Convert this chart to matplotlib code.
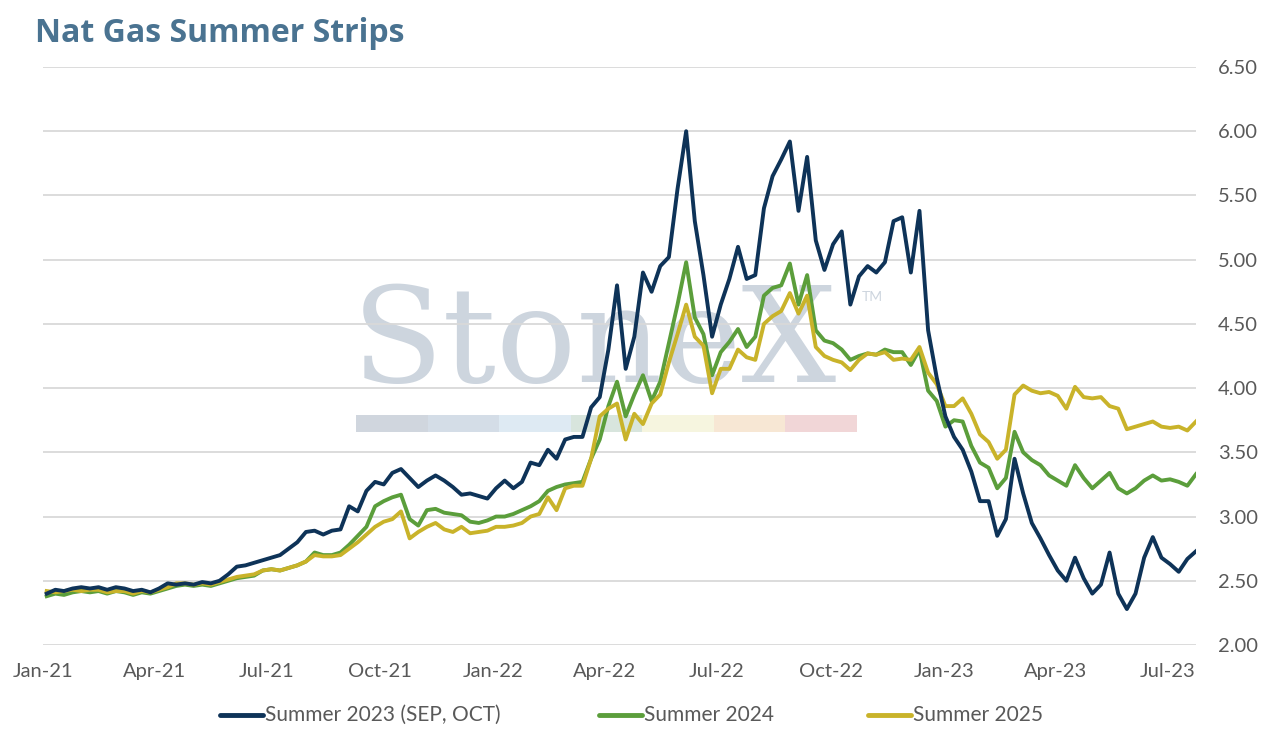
import matplotlib
matplotlib.use("Agg")
import matplotlib.pyplot as plt
import matplotlib.dates as mdates
from matplotlib.patches import Rectangle
from matplotlib.lines import Line2D
import pandas as pd

# ---------------- data ----------------
start_date = "2021-01-04"
n_weeks = 134
dates = pd.date_range(start_date, periods=n_weeks, freq="7D")

summer_2023 = [
    2.40, 2.43, 2.42, 2.44, 2.45, 2.44, 2.45, 2.43, 2.45, 2.44,
    2.42, 2.43, 2.41, 2.44, 2.48, 2.47, 2.48, 2.47, 2.49, 2.48,
    2.50, 2.55, 2.61, 2.62, 2.64, 2.66, 2.68, 2.70, 2.75, 2.80,
    2.88, 2.89, 2.86, 2.89, 2.90, 3.08, 3.04, 3.20, 3.27, 3.25,
    3.34, 3.37, 3.30, 3.23, 3.28, 3.32, 3.28, 3.23, 3.17, 3.18,
    3.16, 3.14, 3.22, 3.28, 3.22, 3.27, 3.42, 3.40, 3.52, 3.45,
    3.60, 3.62, 3.62, 3.85, 3.93, 4.30, 4.80, 4.15, 4.40, 4.90,
    4.75, 4.95, 5.02, 5.55, 6.00, 5.30, 4.88, 4.40, 4.65, 4.85,
    5.10, 4.85, 4.88, 5.40, 5.65, 5.78, 5.92, 5.38, 5.80, 5.15,
    4.92, 5.12, 5.22, 4.65, 4.87, 4.95, 4.90, 4.98, 5.30, 5.33,
    4.90, 5.38, 4.45, 4.08, 3.78, 3.62, 3.52, 3.35, 3.12, 3.12,
    2.85, 2.98, 3.45, 3.18, 2.95, 2.83, 2.70, 2.58, 2.50, 2.68,
    2.52, 2.40, 2.47, 2.72, 2.40, 2.28, 2.40, 2.68, 2.84, 2.68,
    2.63, 2.57, 2.67, 2.73,
]

summer_2024 = [
    2.38, 2.40, 2.39, 2.41, 2.42, 2.41, 2.42, 2.40, 2.42, 2.41,
    2.39, 2.41, 2.40, 2.42, 2.44, 2.46, 2.47, 2.46, 2.47, 2.46,
    2.48, 2.50, 2.52, 2.53, 2.54, 2.58, 2.59, 2.58, 2.60, 2.62,
    2.65, 2.72, 2.70, 2.70, 2.72, 2.78, 2.85, 2.92, 3.08, 3.12,
    3.15, 3.17, 2.98, 2.93, 3.05, 3.06, 3.03, 3.02, 3.01, 2.96,
    2.95, 2.97, 3.00, 3.00, 3.02, 3.05, 3.08, 3.12, 3.20, 3.23,
    3.25, 3.26, 3.27, 3.45, 3.60, 3.86, 4.05, 3.78, 3.95, 4.10,
    3.90, 4.05, 4.35, 4.65, 4.98, 4.55, 4.42, 4.10, 4.28, 4.36,
    4.46, 4.32, 4.40, 4.72, 4.78, 4.80, 4.97, 4.65, 4.88, 4.45,
    4.37, 4.35, 4.30, 4.22, 4.25, 4.27, 4.26, 4.30, 4.28, 4.28,
    4.18, 4.30, 3.98, 3.90, 3.70, 3.75, 3.74, 3.55, 3.42, 3.38,
    3.22, 3.30, 3.66, 3.50, 3.44, 3.40, 3.32, 3.28, 3.24, 3.40,
    3.30, 3.22, 3.28, 3.34, 3.22, 3.18, 3.22, 3.28, 3.32, 3.28,
    3.29, 3.27, 3.24, 3.33,
]

summer_2025 = [
    2.42, 2.41, 2.42, 2.43, 2.42, 2.43, 2.43, 2.41, 2.42, 2.42,
    2.40, 2.42, 2.41, 2.43, 2.45, 2.48, 2.48, 2.47, 2.48, 2.47,
    2.49, 2.51, 2.53, 2.54, 2.55, 2.58, 2.59, 2.58, 2.60, 2.62,
    2.65, 2.70, 2.69, 2.69, 2.70, 2.75, 2.80, 2.86, 2.92, 2.96,
    2.98, 3.04, 2.83, 2.88, 2.92, 2.95, 2.90, 2.88, 2.92, 2.87,
    2.88, 2.89, 2.92, 2.92, 2.93, 2.95, 3.00, 3.02, 3.15, 3.05,
    3.22, 3.24, 3.24, 3.45, 3.78, 3.84, 3.88, 3.60, 3.80, 3.72,
    3.88, 3.95, 4.20, 4.42, 4.65, 4.40, 4.33, 3.96, 4.15, 4.15,
    4.30, 4.24, 4.22, 4.50, 4.56, 4.60, 4.74, 4.58, 4.72, 4.32,
    4.25, 4.22, 4.20, 4.14, 4.22, 4.27, 4.26, 4.28, 4.22, 4.23,
    4.22, 4.32, 4.12, 4.03, 3.86, 3.86, 3.92, 3.80, 3.64, 3.58,
    3.45, 3.52, 3.95, 4.02, 3.98, 3.96, 3.97, 3.94, 3.84, 4.01,
    3.93, 3.92, 3.93, 3.86, 3.84, 3.68, 3.70, 3.72, 3.74, 3.70,
    3.69, 3.70, 3.67, 3.74,
]

series_labels = ["Summer 2023 (SEP, OCT)", "Summer 2024", "Summer 2025"]
series_colors = ["#0e3358", "#5b9e3b", "#c9b32a"]
y_ticks = [2.0, 2.5, 3.0, 3.5, 4.0, 4.5, 5.0, 5.5, 6.0, 6.5]
x_start, x_end = "2021-01-01", "2023-07-24"
title_text = "Nat Gas Summer Strips"
band_colors = ["#d0d6de", "#d4dde7", "#deeaf3", "#d8e5dd", "#f6f5df", "#f7e7d4", "#f1d6d7"]

# ---------------- figure ----------------
W, H = 1271, 734
fig = plt.figure(figsize=(W / 100, H / 100), dpi=100)
ax = fig.add_axes([43 / W, 1 - 645 / H, (1196 - 43) / W, (645 - 67) / H])
ax.set_facecolor("none")

for vals, lab, col, z in zip([summer_2023, summer_2024, summer_2025], series_labels, series_colors, [4, 3, 3]):
    ax.plot(dates, vals, color=col, lw=2.8, label=lab, zorder=z, solid_joinstyle="round")

ax.set_ylim(2.0, 6.5)
ax.set_yticks(y_ticks)
ax.yaxis.set_major_formatter(matplotlib.ticker.FormatStrFormatter("%.2f"))
ax.set_xlim(pd.Timestamp(x_start), pd.Timestamp(x_end))
ax.xaxis.set_major_locator(mdates.MonthLocator(bymonth=[1, 4, 7, 10]))
ax.xaxis.set_major_formatter(mdates.DateFormatter("%b-%y"))

ax.yaxis.tick_right()
ax.tick_params(axis="both", length=0, labelcolor="#595959", labelsize=14.5)
ax.tick_params(axis="y", pad=16)
ax.tick_params(axis="x", pad=13)
for lbl in ax.get_xticklabels() + ax.get_yticklabels():
    lbl.set_family(["Lato", "DejaVu Sans"])
for s in ax.spines.values():
    s.set_visible(False)
ax.grid(axis="y", color="#d9d9d9", lw=1.3, zorder=1)
ax.set_axisbelow(True)

# watermark
ax.text(352 / W, 1 - 382 / H, "StoneX", transform=fig.transFigure, family=["DejaVu Serif"],
        fontsize=96, color="#cdd5de", ha="left", va="baseline", zorder=0.2)
ax.text(862 / W, 1 - 297 / H, "TM", transform=fig.transFigure, family=["Lato", "DejaVu Sans"],
        fontsize=10, color="#cdd5de", ha="left", va="center", zorder=0.2)
bx0, bx1, by0, by1 = 356, 857, 415, 432
seg = (bx1 - bx0) / len(band_colors)
for k, c in enumerate(band_colors):
    ax.add_patch(Rectangle(((bx0 + k * seg) / W, 1 - by1 / H), seg / W, (by1 - by0) / H,
                           transform=fig.transFigure, facecolor=c, edgecolor="none", zorder=0.2))

# title
fig.text(35 / W, 1 - 34 / H, title_text, family=["Open Sans", "DejaVu Sans"], fontweight="bold",
         fontsize=23, color="#4a7391", ha="left", va="center")

# legend (Excel-style slotted entries)
leg_y = 1 - 715 / H
for x0, lab, col in zip([220, 599, 868], series_labels, series_colors):
    fig.add_artist(Line2D([x0 / W, (x0 + 43) / W], [leg_y, leg_y], transform=fig.transFigure,
                          color=col, lw=3.5, solid_capstyle="round"))
    fig.text((x0 + 45) / W, leg_y, lab, family=["Lato", "DejaVu Sans"], fontsize=15,
             color="#595959", ha="left", va="center")

fig.savefig("out.png", dpi=100)
